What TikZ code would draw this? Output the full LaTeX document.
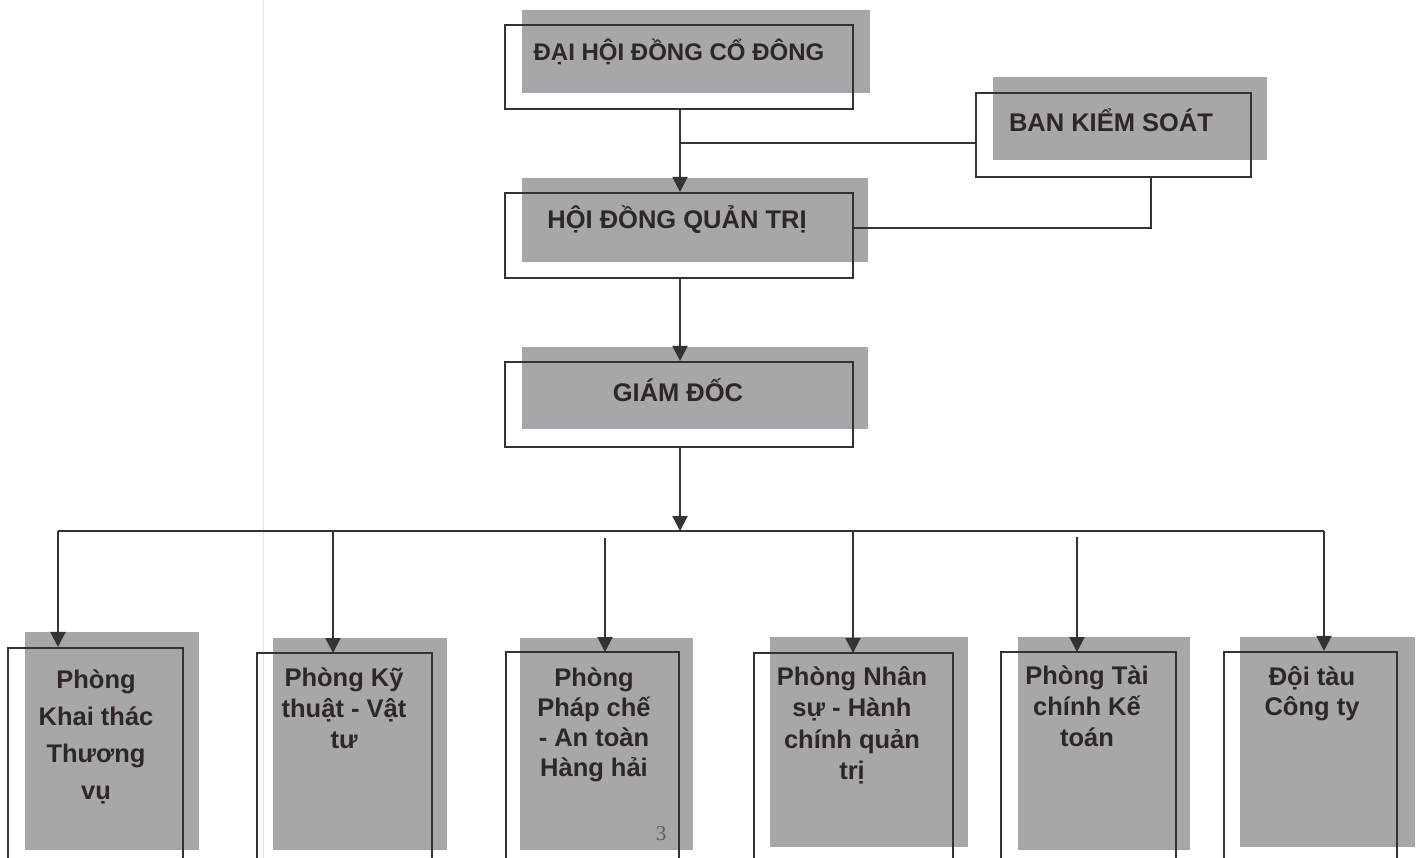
\documentclass[tikz,border=0pt]{standalone}
\usepackage{fontspec}
\setmainfont{Liberation Sans}
\newfontfamily\serifnum{Liberation Serif}
\usetikzlibrary{arrows.meta}
\definecolor{shade}{HTML}{A7A6AA}
\definecolor{ink}{HTML}{333236}
\definecolor{txt}{HTML}{2E262C}
\definecolor{fold}{HTML}{F2DEDF}
\tikzset{
  outline/.style={draw=ink, line width=2.1pt},
  shadow/.style={fill=shade, draw=none},
  conn/.style={draw=ink, line width=2.1pt},
  arr/.style={conn, -{Triangle[width=15pt,length=15pt]}},
  toptext/.style={text=txt, font=\bfseries\fontsize{25.5}{30}\selectfont, inner sep=0pt},
  bottext/.style={text=txt, font=\bfseries\fontsize{25.5}{31}\selectfont, inner sep=0pt, align=center, anchor=north}
}
\begin{document}
\begin{tikzpicture}[x=1pt,y=-1pt]
\path[use as bounding box, clip] (0,0) rectangle (1418,858);
\fill[white] (0,0) rectangle (1418,858);
\draw[fold, line width=1pt] (263,0) -- (263,858);

% shadows
\path[shadow] (522,10) rectangle (870,93);
\path[shadow] (522,178) rectangle (868,262);
\path[shadow] (993,77) rectangle (1267,160);
\path[shadow] (522,347) rectangle (868,429);
\path[shadow] (25,632) rectangle (199,850);
\path[shadow] (273,638) rectangle (447,850);
\path[shadow] (520,638) rectangle (693,850);
\path[shadow] (770,637) rectangle (968,847);
\path[shadow] (1018,637) rectangle (1190,850);
\path[shadow] (1240,637) rectangle (1415,847);

% outline boxes
\node[outline, minimum width=348pt, minimum height=84pt, inner sep=0pt] (dh) at (679,67) {};
\node[outline, minimum width=348pt, minimum height=85pt, inner sep=0pt] (hd) at (679,235.5) {};
\node[outline, minimum width=275pt, minimum height=84pt, inner sep=0pt] (bks) at (1113.5,135) {};
\node[outline, minimum width=348pt, minimum height=85pt, inner sep=0pt] (gd) at (679,404.5) {};

\node[outline, minimum width=175pt, minimum height=222pt, inner sep=0pt] (p1) at (95.5,759) {};
\node[outline, minimum width=175pt, minimum height=217pt, inner sep=0pt] (p2) at (344.5,761.5) {};
\node[outline, minimum width=173pt, minimum height=218pt, inner sep=0pt] (p3) at (592.5,761) {};
\node[outline, minimum width=199pt, minimum height=217pt, inner sep=0pt] (p4) at (853.5,761.5) {};
\node[outline, minimum width=175pt, minimum height=218pt, inner sep=0pt] (p5) at (1088.5,761) {};
\node[outline, minimum width=173pt, minimum height=218pt, inner sep=0pt] (p6) at (1310.5,761) {};

% texts
\node[toptext, font=\bfseries\fontsize{24}{28}\selectfont] (tdh) at (679,52) {ĐẠI HỘI ĐỒNG CỔ ĐÔNG};
\node[toptext] (thd) at (677,220) {HỘI ĐỒNG QUẢN TRỊ};
\node[toptext] (tbks) at (1111,120) {BAN KIỂM SOÁT};
\node[toptext] (tgd) at (678,390) {GIÁM ĐỐC};

\node[bottext, font=\bfseries\fontsize{25.5}{37}\selectfont] (t1) at (96,670) {Phòng\\Khai thác\\Thương\\vụ};
\node[bottext] (t2) at (344,668) {Phòng Kỹ\\thuật - Vật\\tư};
\node[bottext, font=\bfseries\fontsize{25.5}{30}\selectfont] (t3) at (594,668) {Phòng\\Pháp chế\\- An toàn\\Hàng hải};
\node[bottext, font=\bfseries\fontsize{25.5}{31.5}\selectfont] (t4) at (852,666) {Phòng Nhân\\sự - Hành\\chính quản\\trị};
\node[bottext] (t5) at (1087,666) {Phòng Tài\\chính Kế\\toán};
\node[bottext, font=\bfseries\fontsize{25.5}{30}\selectfont] (t6) at (1312,666) {Đội tàu\\Công ty};

\node[text=ink!80, font=\serifnum\fontsize{21}{24}\selectfont, inner sep=0pt] (pg) at (661,834) {3};

% connectors
\coordinate (j1) at (680,143);
\coordinate (k) at (1151,228);
\coordinate (bus) at (680,531);
\draw[arr] (dh.south -| j1) -- (hd.north -| j1);
\draw[conn] (j1) -- (j1 -| bks.west);
\draw[conn] (k -| hd.east) -- (k) -- (k |- bks.south);
\draw[arr] (hd.south -| j1) -- (gd.north -| j1);
\draw[arr] (gd.south -| bus) -- (bus);
\coordinate (b1) at (58,531);
\coordinate (b6) at (1324,531);
\draw[conn] (b1) -- (b6);
\draw[arr] (b1) -- (b1 |- p1.north);
\draw[arr] (333,531) -- (333,653);
\draw[arr] (605,538) -- (605,652);
\draw[arr] (853,531) -- (853,653);
\draw[arr] (1077,537) -- (1077,652);
\draw[arr] (b6) -- (b6 |- p6.north);
\end{tikzpicture}
\end{document}
